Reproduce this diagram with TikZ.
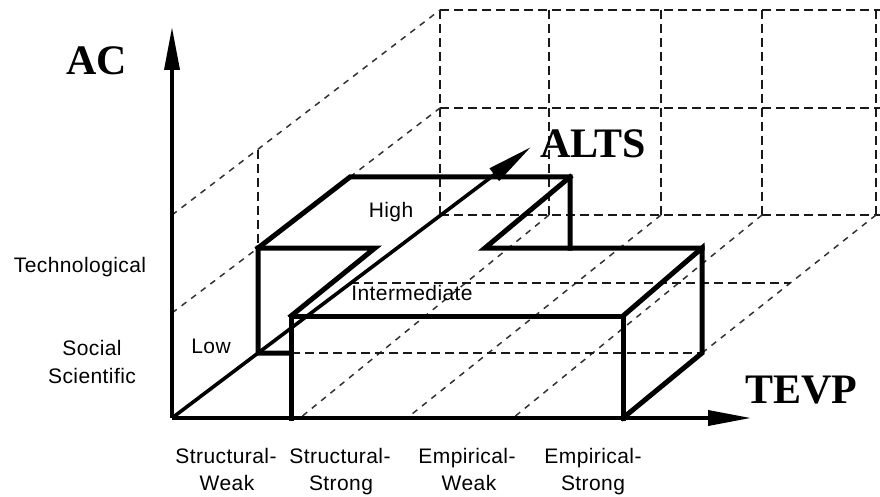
\documentclass[tikz,border=0pt]{standalone}
\usepackage{fontspec}
\setmainfont{Liberation Serif}
\newfontfamily\labfont[LetterSpace=2]{Liberation Sans}
\usetikzlibrary{arrows.meta}
\begin{document}
\begin{tikzpicture}[x=1pt,y=-1pt,
  axis/.style={line width=3.6pt, -{Triangle[length=43pt,width=15pt]}},
  edge/.style={line width=5pt, line join=miter, line cap=rect},
  wall/.style={dash pattern=on 9pt off 5pt, line width=2pt, black!90},
  floorline/.style={dash pattern=on 6pt off 6pt, line width=1.5pt, black!80},
  lab/.style={font=\labfont\fontsize{21pt}{25pt}\selectfont, inner sep=0pt, anchor=base},
  big/.style={font=\bfseries\fontsize{42pt}{48pt}\selectfont, inner sep=0pt, anchor=base}
]
\useasboundingbox (0,0) rectangle (880,497);

% axis points
\coordinate (O) at (172,418);
\coordinate (acTip) at (172,27);
\coordinate (tevpTip) at (751,418);
\coordinate (altsTip) at (531,147);

% back wall grid
\foreach \x in {440,549,661,762,876} \draw[wall] (\x,10) -- (\x,215);
\foreach \y in {10,108,215} \draw[wall] (440,\y) -- (880,\y);

% left wall
\draw[floorline] (172,215) -- (440,10);
\draw[floorline] (172,313) -- (258,248);
\draw[floorline] (350,177) -- (440,108);
\draw[wall] (258,150) -- (258,248);

% floor lines
\draw[floorline] (549,215) -- (300,418);
\draw[floorline] (661,215) -- (407,418);
\draw[floorline] (762,215) -- (513,418);
\draw[floorline] (876,215) -- (702,353);
\draw[wall] (291,353) -- (702,353);
\draw[wall] (350,283) -- (790,283);

% axes
\draw[axis] (O) -- (acTip);
\draw[axis] (O) -- (tevpTip);
\draw[axis, -{Triangle[length=46pt,width=15pt]}] (O) -- (altsTip);

% thick outline
\coordinate (fbl) at (291,418);
\coordinate (ftl) at (291,316);
\coordinate (ftr) at (623,316);
\coordinate (fbr) at (623,418);
\coordinate (btr) at (702,248);
\coordinate (bbr) at (702,353);
\coordinate (btl) at (375,248);
\coordinate (lt) at (258,248);
\coordinate (lb) at (258,353);
\coordinate (lbr) at (291,353);
\coordinate (hl) at (350,177);
\coordinate (hr) at (570,177);
\coordinate (hrd) at (570,248);
\coordinate (hf) at (485,248);

\draw[edge] (fbl) -- (ftl) -- (ftr) -- (fbr);
\draw[edge] (ftr) -- (btr) -- (bbr) -- (fbr);
\draw[edge] (ftl) -- (btl) -- (lt) -- (lb) -- (lbr);
\draw[edge] (lt) -- (hl) -- (hr) -- (hrd);
\draw[edge] (hr) -- (hf) -- (btr);

% labels
\node[big] (ac) at (97,75) {AC};
\node[big] (alts) at (593,158) {ALTS};
\node[big] (tevp) at (801,403) {TEVP};

\node[lab] (tech) at (80,272) {Technological};
\node[lab] (soc1) at (92,355) {Social};
\node[lab] (soc2) at (92,383) {Scientific};
\node[lab] (low) at (211,353) {Low};
\node[lab] (high) at (391,217) {High};
\node[lab] (inter) at (412,300) {Intermediate};
\node[lab] (sw1) at (226,463) {Structural-};
\node[lab] (sw2) at (227,490) {Weak};
\node[lab] (ss1) at (340,463) {Structural-};
\node[lab] (ss2) at (341,490) {Strong};
\node[lab] (ew1) at (467,463) {Empirical-};
\node[lab] (ew2) at (469,490) {Weak};
\node[lab] (es1) at (593,463) {Empirical-};
\node[lab] (es2) at (593,490) {Strong};
\end{tikzpicture}
\end{document}
